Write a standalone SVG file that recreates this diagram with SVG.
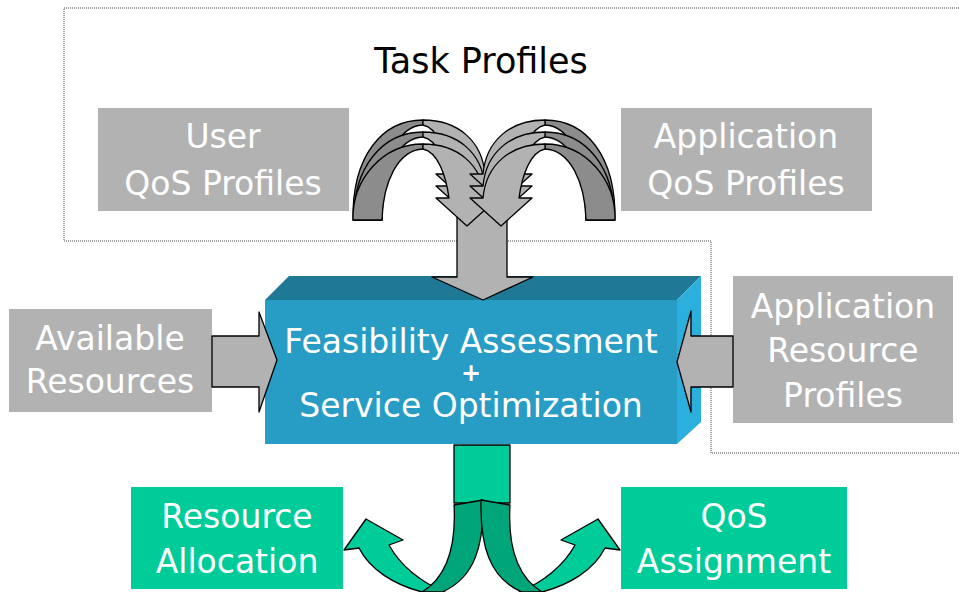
<svg xmlns="http://www.w3.org/2000/svg" width="959" height="592" viewBox="0 0 959 592">
<style>
text{font-family:"Comic Sans MS","DejaVu Sans",sans-serif;text-anchor:middle}
.lbl{fill:#ffffff;font-size:33px}
.gray{fill:#b2b2b2}
.dk{fill:#8c8c8c;stroke:#000;stroke-width:1.3;stroke-linejoin:round}
.lt{fill:#b2b2b2;stroke:#000;stroke-width:1.3;stroke-linejoin:round}
.gbox{fill:#00cc99}
.glt{fill:#00cc99;stroke:#000;stroke-width:1.3;stroke-linejoin:round}
.gdk{fill:#00a67a;stroke:#000;stroke-width:1.3;stroke-linejoin:round}
</style>
<defs>
<g id="curveL">
<path class="dk" d="M353,220 C352,156 382,120 423,120 L423,125 C398,126 383,158 382,220 Z"/>
<path class="lt" d="M423,120 C458,120 482,141 485,174 L498,174 L467,202 L436,174 L449,174 C446,152 438,128 423,125 Z"/>
<path class="dk" d="M354,220 C353,168 382,132 423,132 L423,137 C398,138 383,170 382,220 Z"/>
<path class="lt" d="M423,132 C458,132 482,153 485,186 L498,186 L467,214 L436,186 L449,186 C446,164 438,140 423,137 Z"/>
<path class="dk" d="M353,220 C352,180 382,144 423,144 L423,149 C398,150 383,182 382,220 Z"/>
<path class="lt" d="M423,144 C458,144 482,165 485,198 L498,198 L467,226 L436,198 L449,198 C446,176 438,152 423,149 Z"/>
</g>
<g id="greenL">
<path class="glt" d="M422,592 C395,585 370,570 359,548 L344,550 L366,519 L403,540 L389,545 C400,565 420,582 445,592 Z"/>
<path class="gdk" d="M454,505 C456,540 450,575 422,592 L442,592 C475,578 484,545 483,500 Z"/>
</g>
</defs>

<path id="task-profiles-border" d="M959,453 H711 V241 H64 V8 H959" fill="none" stroke="#444" stroke-width="1" stroke-dasharray="1,1"/>
<text x="481" y="73" font-size="35" fill="#000">Task Profiles</text>

<g id="user-qos">
<rect class="gray" x="98" y="108" width="251" height="103"/>
<text class="lbl" x="223" y="148">User</text>
<text class="lbl" x="223" y="195">QoS Profiles</text>
</g>
<g id="app-qos">
<rect class="gray" x="621" y="108" width="251" height="103"/>
<text class="lbl" x="746" y="148">Application</text>
<text class="lbl" x="746" y="195">QoS Profiles</text>
</g>
<g id="available-resources">
<rect class="gray" x="9" y="309" width="203" height="103"/>
<text class="lbl" x="110" y="350">Available</text>
<text class="lbl" x="110" y="393">Resources</text>
</g>
<g id="app-resource-profiles">
<rect class="gray" x="733" y="276" width="220" height="147"/>
<text class="lbl" x="843" y="318">Application</text>
<text class="lbl" x="843" y="362">Resource</text>
<text class="lbl" x="843" y="407">Profiles</text>
</g>

<g id="feasibility">
<polygon points="265,300 289,276 701,276 677,300" fill="#1f7896"/>
<polygon points="677,300 701,276 701,422 677,444" fill="#2bb0de"/>
<rect x="265" y="300" width="412" height="144" fill="#279cc5"/>
</g>

<g id="connectors">
<polygon class="lt" points="457,205 507,205 507,277 533,277 483,300 432,277 457,277"/>
<use href="#curveL"/>
<use href="#curveL" transform="translate(968,0) scale(-1,1)"/>
<polygon class="lt" points="212,336 259,336 259,312 277,360 259,412 259,387 212,387"/>
<polygon class="lt" points="733,336 691,336 691,311 677,362 691,412 691,387 733,387"/>
<rect class="glt" x="454" y="445" width="56" height="58"/>
<use href="#greenL"/>
<use href="#greenL" transform="translate(964,0) scale(-1,1)"/>
</g>

<g id="feasibility-text">
<text class="lbl" x="471" y="353" font-size="34">Feasibility Assessment</text>
<text class="lbl" x="471" y="381" style="font-size:24px;font-weight:bold">+</text>
<text class="lbl" x="471" y="417" font-size="34">Service Optimization</text>
</g>

<g id="resource-allocation">
<rect class="gbox" x="131" y="487" width="212" height="102"/>
<text class="lbl" x="237" y="528">Resource</text>
<text class="lbl" x="237" y="573">Allocation</text>
</g>
<g id="qos-assignment">
<rect class="gbox" x="621" y="487" width="226" height="102"/>
<text class="lbl" x="734" y="528">QoS</text>
<text class="lbl" x="734" y="573">Assignment</text>
</g>
</svg>
